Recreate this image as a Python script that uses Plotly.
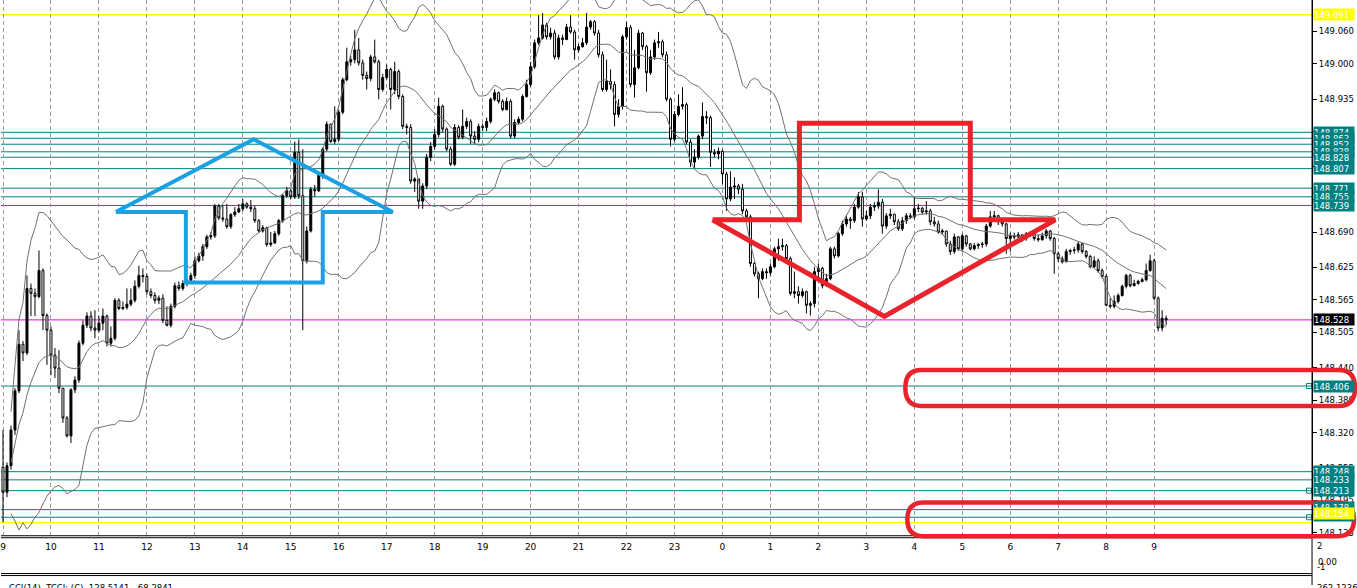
import numpy as np
import pandas as pd
import plotly.graph_objects as go

# ---------------- data (prices in points above BASE, 1 pt = 0.001) ----------------
BASE = 148.0
START = "2024-02-13 09:00"
open0_pts = 256
close_pts = [
    210, 259, 325, 397, 483, 467, 586, 577, 571, 619, 536, 509,
    463, 439, 402, 347, 314, 399, 417, 485, 518, 535, 513, 509,
    522, 535, 485, 494, 564, 549, 551, 557, 564, 590, 610, 608,
    580, 573, 564, 568, 527, 518, 553, 591, 586, 595, 601, 610,
    637, 646, 663, 681, 683, 738, 716, 714, 700, 722, 727, 733,
    742, 736, 733, 711, 692, 698, 667, 670, 687, 711, 757, 766,
    755, 837, 757, 637, 692, 769, 766, 795, 843, 889, 857, 861,
    911, 971, 1004, 1008, 1026, 1002, 979, 973, 1013, 1004, 953, 975,
    990, 953, 986, 940, 885, 883, 784, 788, 747, 775, 828, 848,
    870, 922, 880, 843, 815, 883, 865, 885, 894, 867, 861, 885,
    883, 894, 935, 947, 931, 916, 931, 867, 892, 898, 940, 962,
    995, 1039, 1048, 1072, 1050, 1057, 1013, 1048, 1045, 1068, 1059, 1026,
    1032, 1039, 1068, 1078, 1057, 1017, 953, 968, 962, 907, 922, 1050,
    1067, 962, 993, 1057, 1032, 984, 1013, 1039, 1041, 1017, 935, 861,
    907, 922, 925, 856, 819, 828, 867, 903, 901, 837, 834, 839,
    797, 751, 773, 775, 769, 729, 718, 632, 613, 604, 617, 615,
    626, 659, 663, 665, 641, 577, 580, 573, 580, 555, 558,
    617, 623, 591, 604, 659, 646, 687, 705, 714, 711, 736, 755,
    714, 720, 736, 738, 745, 701, 720, 723, 709, 696, 711, 720,
    718, 733, 734, 727, 729, 709, 705, 690, 692, 668, 654, 681,
    659, 683, 668, 659, 665, 667, 668, 701, 718, 720, 709, 705,
    678, 683, 681, 685, 678, 687, 689, 678, 676, 683, 692, 678,
    650, 641, 635, 654, 656, 657, 668, 654, 645, 626, 637, 619,
    608, 555, 553, 562, 573, 590, 610, 591, 595, 599, 602, 619,
    637, 568, 513, 531, 528,
]
high_pts = [
    325, 265, 333, 402, 509, 489, 610, 595, 586, 656, 623, 540,
    516, 476, 472, 402, 351, 402, 424, 490, 527, 542, 544, 546,
    535, 549, 538, 516, 568, 568, 562, 586, 586, 601, 628, 623,
    613, 586, 579, 573, 575, 553, 558, 597, 599, 601, 604, 615,
    645, 652, 668, 685, 690, 742, 742, 740, 742, 725, 736, 742,
    751, 745, 749, 738, 714, 703, 700, 690, 692, 714, 760, 773,
    769, 857, 861, 843, 700, 773, 777, 801, 846, 894, 890, 922,
    916, 975, 1030, 1015, 1063, 1048, 1008, 986, 1017, 1045, 1008, 982,
    999, 993, 1004, 990, 944, 890, 889, 791, 788, 780, 834, 856,
    880, 938, 925, 883, 848, 889, 887, 916, 901, 898, 876, 890,
    890, 901, 938, 953, 949, 935, 938, 935, 898, 903, 944, 971,
    1004, 1045, 1090, 1094, 1076, 1067, 1063, 1054, 1054, 1074, 1090, 1063,
    1037, 1048, 1094, 1081, 1081, 1063, 1023, 1008, 990, 968, 935, 1054,
    1078, 1072, 1026, 1063, 1059, 1035, 1026, 1045, 1059, 1045, 1023, 938,
    913, 944, 957, 929, 861, 843, 870, 929, 913, 905, 843, 846,
    842, 801, 802, 791, 779, 779, 733, 722, 635, 617, 623, 623,
    632, 663, 678, 678, 668, 645, 617, 590, 586, 582, 562,
    626, 632, 626, 613, 663, 663, 690, 711, 722, 718, 742, 764,
    764, 729, 742, 745, 769, 751, 725, 733, 723, 714, 718, 725,
    725, 755, 742, 736, 747, 733, 718, 711, 696, 692, 674, 687,
    683, 687, 685, 670, 670, 670, 672, 705, 729, 729, 722, 712,
    707, 689, 689, 690, 685, 690, 692, 689, 685, 689, 696, 694,
    681, 654, 645, 659, 659, 663, 672, 670, 657, 648, 645, 641,
    623, 612, 568, 573, 577, 593, 613, 613, 602, 602, 606, 632,
    648, 641, 571, 546, 536,
]
low_pts = [
    155, 201, 252, 316, 393, 452, 463, 535, 535, 568, 509, 445,
    426, 421, 393, 338, 311, 301, 393, 412, 481, 513, 507, 494,
    505, 509, 479, 479, 490, 546, 546, 547, 553, 560, 586, 597,
    575, 568, 558, 557, 522, 516, 514, 549, 582, 582, 590, 597,
    604, 634, 637, 659, 676, 679, 712, 709, 696, 696, 718, 725,
    729, 733, 727, 707, 689, 689, 663, 663, 668, 683, 707, 753,
    751, 751, 751, 509, 632, 689, 755, 764, 788, 839, 854, 852,
    857, 907, 968, 997, 1001, 997, 971, 953, 968, 1001, 935, 949,
    971, 916, 944, 935, 880, 870, 779, 764, 733, 733, 769, 821,
    843, 865, 874, 839, 812, 812, 861, 861, 880, 852, 852, 856,
    876, 876, 890, 931, 927, 913, 914, 863, 863, 889, 894, 938,
    958, 991, 1035, 1045, 1045, 1045, 1008, 1008, 1035, 1045, 1056, 1008,
    1021, 1030, 1035, 1063, 1052, 1012, 949, 949, 953, 885, 901, 916,
    1045, 957, 938, 990, 1026, 949, 980, 1008, 1030, 1012, 931, 848,
    857, 903, 916, 852, 810, 806, 824, 861, 889, 810, 828, 824,
    779, 729, 747, 751, 760, 723, 711, 626, 608, 568, 601, 604,
    610, 623, 637, 656, 637, 573, 568, 558, 569, 540, 536,
    551, 601, 586, 590, 601, 641, 643, 683, 700, 696, 707, 733,
    700, 711, 714, 729, 733, 687, 696, 714, 703, 692, 692, 705,
    714, 714, 727, 723, 722, 703, 700, 687, 685, 663, 648, 650,
    656, 654, 663, 656, 656, 659, 661, 663, 698, 714, 703, 700,
    650, 654, 676, 678, 672, 674, 681, 674, 672, 674, 678, 674,
    613, 635, 632, 635, 648, 650, 652, 650, 641, 623, 623, 615,
    604, 553, 549, 549, 558, 571, 586, 588, 590, 593, 597, 599,
    617, 564, 507, 507, 518,
]

hour_labels = ["9", "10", "11", "12", "13", "14", "15", "16", "17", "18", "19", "20",
               "21", "22", "23", "0", "1", "2", "3", "4", "5", "6", "7", "8", "9"]
ytick_vals = [149.060, 149.000, 148.935, 148.875, 148.810, 148.750, 148.690, 148.625,
              148.565, 148.505, 148.440, 148.380, 148.320, 148.255, 148.195, 148.135]

teal_levels = [148.874, 148.863, 148.852, 148.838, 148.828, 148.807, 148.771, 148.755,
               148.739, 148.406, 148.248, 148.233, 148.213, 148.178, 148.164]
yellow_levels = [149.091, 148.154]
bid_level = 148.528
marker_levels = [148.406, 148.213, 148.164]

# ---------------- derived series ----------------
close = BASE + np.array(close_pts) / 1000.0
high = BASE + np.array(high_pts) / 1000.0
low = BASE + np.array(low_pts) / 1000.0
open_ = np.concatenate([[BASE + open0_pts / 1000.0], close[:-1]])
times = pd.date_range(START, periods=len(close), freq="5min")
start = pd.Timestamp(START)

s = pd.Series(close)
mid = s.rolling(20, min_periods=3).mean()
sd = s.rolling(20, min_periods=3).std(ddof=0)
upper = mid + 2 * sd
lower = mid - 2 * sd

W, H = 1357, 588
XR = 1312 / W          # right edge of price panel (paper)
def PX(px):
    return px / W
def PY(py):
    return 1 - py / H
def T(px):             # pixel column -> time on the axis (hour grid: 48 px / hour)
    return start + pd.Timedelta(hours=(px - 2) / 48.0)
def P(py):             # pixel row -> price
    return 149.118 - py * 0.001835

fig = go.Figure()

band_style = dict(color="#707070", width=1)
for band in (upper, mid, lower):
    fig.add_trace(go.Scatter(x=times, y=band, mode="lines", line=band_style,
                             hoverinfo="skip", showlegend=False))

fig.add_trace(go.Candlestick(
    x=times, open=open_, high=high, low=low, close=close,
    increasing=dict(line=dict(color="black", width=1), fillcolor="black"),
    decreasing=dict(line=dict(color="black", width=1), fillcolor="white"),
    whiskerwidth=0, showlegend=False, hoverinfo="skip"))

# small square handles at the right end of some levels
fig.add_trace(go.Scatter(x=[T(1309)] * len(marker_levels), y=marker_levels, mode="markers",
                         marker=dict(symbol="square-open", size=5, color="#008080",
                                     line=dict(width=1, color="#008080")),
                         hoverinfo="skip", showlegend=False))

# blue up-arrow drawing
blue_x = [T(115), T(253), T(392), T(322), T(322), T(185), T(185), T(115)]
blue_y = [P(213), P(140), P(213), P(213), P(284), P(284), P(213), P(213)]
fig.add_trace(go.Scatter(x=blue_x, y=blue_y, mode="lines",
                         line=dict(color="#1ba1e2", width=4), hoverinfo="skip", showlegend=False))
# red down-arrow drawing
red_x = [T(712), T(799), T(799), T(970), T(970), T(1055), T(884), T(712)]
red_y = [P(221), P(221), P(124), P(124), P(221), P(221), P(318), P(221)]
fig.add_trace(go.Scatter(x=red_x, y=red_y, mode="lines",
                         line=dict(color="#e8232b", width=5), hoverinfo="skip", showlegend=False))

shapes = []
for lv in teal_levels:
    shapes.append(dict(type="line", xref="paper", yref="y", x0=0, x1=XR, y0=lv, y1=lv,
                       line=dict(color="#008080", width=1), layer="below"))
for lv in yellow_levels:
    shapes.append(dict(type="line", xref="paper", yref="y", x0=0, x1=XR, y0=lv, y1=lv,
                       line=dict(color="#ffff00", width=1.5), layer="below"))
shapes.append(dict(type="line", xref="paper", yref="y", x0=0, x1=XR, y0=bid_level, y1=bid_level,
                   line=dict(color="#ee00ee", width=1), layer="below"))

# frame lines
for py in (538.5, 540.5, 576.5, 578.5):
    shapes.append(dict(type="line", xref="paper", yref="paper", x0=0, x1=XR, y0=PY(py), y1=PY(py),
                       line=dict(color="black", width=1)))
shapes.append(dict(type="line", xref="paper", yref="paper", x0=XR, x1=XR, y0=0, y1=1,
                   line=dict(color="black", width=1)))

def rounded_box(l, t, r, b, rad):
    return (f"M {PX(l+rad)} {PY(t)} L {PX(r-rad)} {PY(t)} Q {PX(r)} {PY(t)} {PX(r)} {PY((t+b)/2)} "
            f"Q {PX(r)} {PY(b)} {PX(r-rad)} {PY(b)} L {PX(l+rad)} {PY(b)} "
            f"Q {PX(l)} {PY(b)} {PX(l)} {PY((t+b)/2)} Q {PX(l)} {PY(t)} {PX(l+rad)} {PY(t)} Z")

for box in ((905, 372, 1355, 408), (907, 505, 1354, 539)):
    shapes.append(dict(type="path", xref="paper", yref="paper", path=rounded_box(*box, 16),
                       line=dict(color="#e8232b", width=4.5)))

annotations = []
def level_label(price, text, bg, fg="white", yshift=0):
    annotations.append(dict(xref="paper", yref="y", x=1313 / W, y=price, xanchor="left",
                            yanchor="middle", text=text, showarrow=False, bgcolor=bg,
                            font=dict(family="DejaVu Sans", size=8.5, color=fg),
                            width=40, height=11, borderpad=0, align="left", yshift=yshift))

level_label(yellow_levels[0], f"{yellow_levels[0]:.3f}", "#ffff00")
for lv in teal_levels[:10]:
    level_label(lv, f"{lv:.3f}", "#008080")
level_label(bid_level, f"{bid_level:.3f}", "#000000")
for lv in teal_levels[10:]:
    level_label(lv, f"{lv:.3f}", "#008080", yshift=2 if lv < 148.2 else 0)
level_label(yellow_levels[1], f"{yellow_levels[1]:.3f}", "#ffff00", yshift=9)

def txt(px, py, text, anchor="left"):
    annotations.append(dict(xref="paper", yref="paper", x=PX(px), y=PY(py), xanchor=anchor,
                            yanchor="middle", text=text, showarrow=False,
                            font=dict(family="DejaVu Sans", size=8.5, color="black")))

txt(1315, 549, "2")
txt(1316, 565, "0.00")
txt(1315, 570, "-1")
txt(1315, 591, "262.1236")
txt(6, 591, "CCI(14)  TCCI: (C)  128.5141  -68.2841")

hour_ticks = [start + pd.Timedelta(hours=h) for h in range(len(hour_labels))]

fig.update_layout(
    width=W, height=H, margin=dict(l=0, r=0, t=0, b=0),
    paper_bgcolor="white", plot_bgcolor="white", showlegend=False,
    shapes=shapes, annotations=annotations,
    xaxis=dict(domain=[0, XR], type="date", range=[T(0), T(1312)],
               tickvals=hour_ticks, ticktext=hour_labels, ticks="",
               ticklabelstandoff=5, ticklabeloverflow="allow",
               showgrid=True, gridcolor="#9a9a9a", griddash="4px,3px", gridwidth=1,
               showline=False, zeroline=False, rangeslider=dict(visible=False),
               tickfont=dict(family="DejaVu Sans", size=9, color="black")),
    yaxis=dict(domain=[1 - 538 / H, 1], side="right", range=[P(538), P(0)],
               tickvals=ytick_vals, ticktext=[f"{v:.3f}" for v in ytick_vals],
               showgrid=False, zeroline=False, ticks="outside", ticklen=4, tickcolor="black",
               showline=True, linecolor="black", linewidth=1,
               tickfont=dict(family="DejaVu Sans", size=8.5, color="black")),
)

fig.write_html("out.html", config={"displayModeBar": False},
               post_script="document.body.style.margin='0';document.body.style.padding='0';"
                           "document.body.style.overflow='hidden';")
